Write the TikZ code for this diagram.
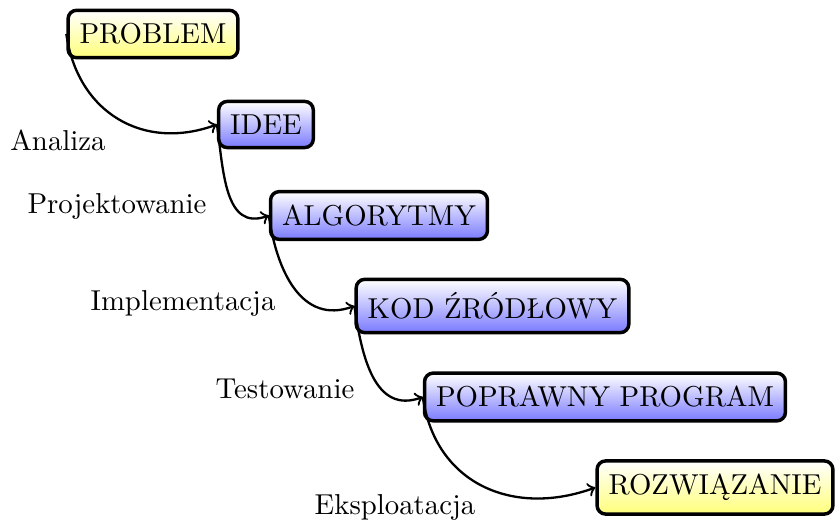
\documentclass[tikz,border=0pt]{standalone}
\usetikzlibrary{shadings}
\begin{document}
\begin{tikzpicture}[x=0.3472pt,y=-0.3472pt,
  stage/.style={draw=black, very thick, rounded corners=3pt, inner xsep=4pt, inner ysep=4.6pt,
    top color=white},
  bluebox/.style={stage, bottom color=blue!52},
  yellowbox/.style={stage, bottom color=yellow!52},
  flow/.style={->, thick, out=-82, in=200, looseness=1.15},
  lbl/.style={inner sep=0pt}]
\useasboundingbox (0,0) rectangle (837,524);
\node[yellowbox] (p) at (153,34) {PROBLEM};
\node[bluebox] (i) at (266,124.5) {IDEE};
\node[bluebox] (a) at (379,215.5) {ALGORYTMY};
\node[bluebox] (k) at (492.5,306) {KOD ŹRÓDŁOWY};
\node[bluebox] (pp) at (605,397) {POPRAWNY PROGRAM};
\node[yellowbox] (r) at (715,487.5) {ROZWIĄZANIE};
\draw[flow] (p.west) to (i.west);
\draw[flow] (i.west) to (a.west);
\draw[flow] (a.west) to (k.west);
\draw[flow] (k.west) to (pp.west);
\draw[flow] (pp.west) to (r.west);
\node[lbl] (l1) at (58,140) {Analiza};
\node[lbl] (l2) at (117,206) {Projektowanie};
\node[lbl] (l3) at (183,303) {Implementacja};
\node[lbl] (l4) at (285,389) {Testowanie};
\node[lbl] (l5) at (395,507) {Eksploatacja};
\end{tikzpicture}
\end{document}
